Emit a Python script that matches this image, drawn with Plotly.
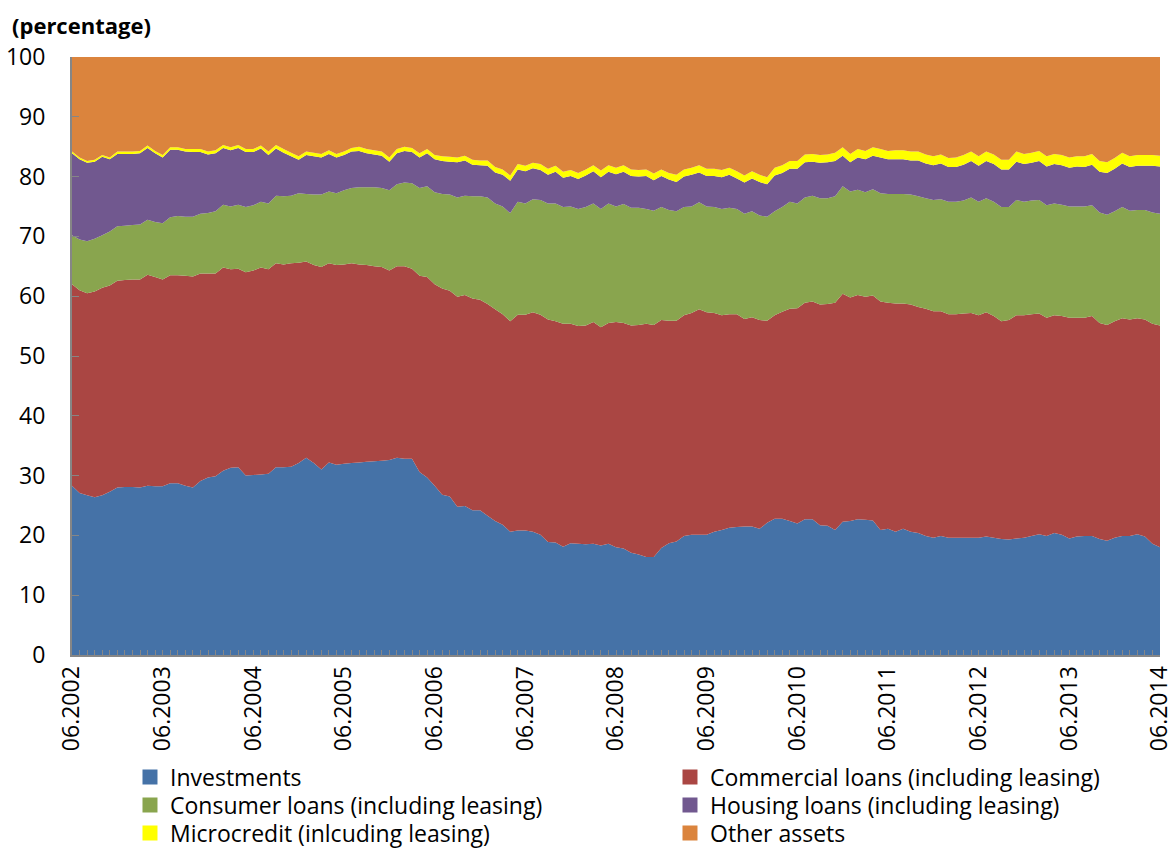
import plotly.graph_objects as go

# Monthly observations, June 2002 - June 2014
MONTHS = [f"{(5 + i) % 12 + 1:02d}.{2002 + (5 + i) // 12}" for i in range(145)]

# Shares of total assets, percent
INVESTMENTS = [
    28.3, 27.1, 26.7, 26.4, 26.7, 27.3, 28.0, 28.1, 28.1, 28.0, 28.3, 28.2,
    28.2, 28.7, 28.7, 28.3, 28.0, 29.1, 29.7, 29.9, 30.8, 31.3, 31.4, 30.0,
    30.1, 30.2, 30.3, 31.4, 31.4, 31.5, 32.1, 33.0, 32.1, 31.0, 32.2, 31.8,
    32.0, 32.1, 32.2, 32.3, 32.4, 32.5, 32.6, 33.0, 32.8, 32.8, 30.6, 29.7,
    28.3, 26.8, 26.5, 24.8, 24.9, 24.2, 24.2, 23.3, 22.4, 21.8, 20.6, 20.8,
    20.8, 20.6, 20.1, 18.9, 18.8, 18.1, 18.7, 18.6, 18.5, 18.6, 18.3, 18.6,
    18.0, 17.8, 17.1, 16.8, 16.4, 16.4, 17.9, 18.7, 19.0, 19.9, 20.1, 20.1,
    20.1, 20.6, 20.9, 21.3, 21.4, 21.5, 21.5, 21.1, 22.1, 22.8, 22.8, 22.4,
    22.0, 22.7, 22.7, 21.7, 21.6, 20.9, 22.3, 22.4, 22.7, 22.6, 22.5, 20.9,
    21.1, 20.6, 21.1, 20.6, 20.4, 19.9, 19.6, 19.9, 19.6, 19.6, 19.6, 19.6,
    19.6, 19.8, 19.6, 19.4, 19.3, 19.5, 19.6, 19.9, 20.2, 19.9, 20.4, 20.1,
    19.5, 19.8, 19.9, 19.9, 19.4, 19.1, 19.6, 19.9, 19.9, 20.2, 19.8, 18.6,
    18.0,
]

COMMERCIAL = [
    33.7, 33.9, 33.8, 34.4, 34.7, 34.5, 34.6, 34.6, 34.7, 34.8, 35.3, 35.0,
    34.6, 34.8, 34.8, 35.1, 35.3, 34.7, 34.1, 33.9, 34.0, 33.2, 33.2, 34.0,
    34.2, 34.6, 34.2, 34.1, 33.9, 34.0, 33.5, 32.8, 33.1, 33.9, 33.3, 33.4,
    33.3, 33.4, 33.1, 32.9, 32.6, 32.4, 31.7, 32.0, 32.2, 31.8, 32.8, 33.5,
    33.7, 34.5, 34.4, 35.1, 35.3, 35.4, 35.2, 35.4, 35.4, 35.2, 35.2, 36.1,
    36.1, 36.7, 36.8, 37.2, 37.0, 37.3, 36.7, 36.4, 36.6, 37.1, 36.5, 36.9,
    37.7, 37.7, 38.0, 38.4, 39.0, 38.8, 38.1, 37.2, 36.9, 36.9, 37.1, 37.7,
    37.2, 36.6, 35.9, 35.7, 35.6, 34.7, 35.0, 34.9, 33.8, 34.0, 34.6, 35.5,
    36.0, 36.2, 36.4, 36.9, 37.1, 38.0, 38.1, 37.4, 37.5, 37.3, 37.6, 38.2,
    37.8, 38.2, 37.7, 38.0, 37.8, 38.0, 37.9, 37.6, 37.4, 37.4, 37.5, 37.6,
    37.2, 37.5, 37.1, 36.4, 36.7, 37.3, 37.2, 37.1, 36.9, 36.5, 36.4, 36.6,
    36.9, 36.6, 36.5, 36.8, 36.1, 36.1, 36.2, 36.4, 36.2, 36.1, 36.3, 36.8,
    37.1,
]

CONSUMER = [
    8.2, 8.5, 8.7, 8.8, 8.8, 9.0, 9.1, 9.1, 9.1, 9.2, 9.2, 9.2,
    9.4, 9.7, 9.9, 9.9, 10.0, 10.0, 10.1, 10.4, 10.5, 10.5, 10.7, 10.9,
    10.9, 11.0, 11.0, 11.3, 11.4, 11.3, 11.6, 11.3, 11.8, 12.1, 12.0, 12.0,
    12.4, 12.6, 12.9, 13.0, 13.2, 13.2, 13.4, 13.7, 14.0, 14.3, 14.7, 15.2,
    15.4, 15.8, 16.1, 16.6, 16.6, 17.1, 17.3, 17.8, 17.7, 18.0, 18.1, 18.9,
    18.6, 18.9, 19.2, 19.4, 19.7, 19.5, 19.6, 19.6, 19.8, 19.8, 19.8, 20.0,
    19.3, 19.9, 19.7, 19.6, 19.2, 19.1, 18.9, 18.5, 18.3, 18.1, 17.8, 17.9,
    17.7, 17.7, 17.8, 17.8, 17.6, 17.6, 17.7, 17.5, 17.4, 17.4, 17.5, 17.9,
    17.5, 17.6, 17.7, 17.8, 17.7, 17.8, 18.0, 17.7, 17.6, 17.5, 17.8, 18.1,
    18.2, 18.3, 18.3, 18.4, 18.5, 18.5, 18.6, 18.7, 18.8, 18.8, 18.9, 19.3,
    19.0, 19.1, 19.1, 19.1, 18.9, 19.3, 19.0, 19.0, 19.0, 18.8, 18.7, 18.6,
    18.6, 18.6, 18.6, 18.5, 18.5, 18.4, 18.4, 18.6, 18.2, 18.1, 18.3, 18.6,
    18.7,
]

HOUSING = [
    13.7, 13.4, 13.1, 12.9, 13.1, 12.1, 12.1, 12.0, 11.9, 11.9, 12.0, 11.5,
    11.0, 11.3, 11.1, 10.9, 10.8, 10.3, 9.8, 9.7, 9.5, 9.4, 9.5, 9.2,
    8.9, 8.9, 8.1, 7.9, 7.3, 6.6, 5.6, 6.5, 6.4, 6.2, 6.3, 6.0,
    5.9, 6.1, 6.1, 5.7, 5.5, 5.4, 4.8, 5.2, 5.3, 5.2, 5.1, 5.5,
    5.5, 5.5, 5.5, 5.9, 5.9, 5.3, 5.2, 5.3, 5.2, 5.3, 5.4, 5.4,
    5.4, 5.2, 5.0, 4.8, 5.3, 4.9, 5.1, 5.0, 5.3, 5.4, 5.3, 5.3,
    5.4, 5.4, 5.3, 5.2, 5.5, 5.1, 5.2, 5.1, 4.9, 5.1, 5.3, 5.0,
    5.1, 5.2, 5.3, 5.5, 5.1, 5.2, 5.5, 5.6, 5.4, 6.0, 5.7, 5.5,
    5.8, 5.9, 5.7, 5.9, 6.0, 5.9, 5.1, 4.9, 5.4, 5.5, 5.6, 6.0,
    5.8, 5.8, 5.8, 5.7, 6.0, 5.8, 5.8, 6.0, 5.8, 5.8, 6.0, 6.1,
    6.0, 6.2, 6.3, 6.3, 6.3, 6.4, 6.3, 6.3, 6.5, 6.5, 6.6, 6.6,
    6.5, 6.7, 6.6, 6.8, 6.8, 7.0, 7.1, 7.3, 7.3, 7.4, 7.4, 7.8,
    7.9,
]

MICROCREDIT = [
    0.3, 0.3, 0.3, 0.3, 0.3, 0.3, 0.4, 0.4, 0.4, 0.4, 0.4, 0.4,
    0.4, 0.4, 0.4, 0.4, 0.5, 0.5, 0.5, 0.5, 0.5, 0.5, 0.5, 0.5,
    0.5, 0.5, 0.6, 0.6, 0.6, 0.6, 0.6, 0.6, 0.6, 0.6, 0.6, 0.6,
    0.6, 0.6, 0.7, 0.7, 0.7, 0.7, 0.7, 0.7, 0.7, 0.7, 0.7, 0.7,
    0.7, 0.8, 0.8, 0.8, 0.8, 0.8, 0.8, 0.9, 0.9, 0.9, 0.9, 0.9,
    0.9, 0.9, 1.0, 1.0, 1.0, 1.0, 1.0, 1.0, 1.0, 1.0, 1.1, 1.1,
    1.1, 1.1, 1.1, 1.1, 1.1, 1.1, 1.1, 1.1, 1.2, 1.2, 1.2, 1.2,
    1.2, 1.2, 1.2, 1.2, 1.2, 1.2, 1.2, 1.2, 1.2, 1.3, 1.3, 1.3,
    1.3, 1.3, 1.3, 1.3, 1.3, 1.4, 1.4, 1.4, 1.4, 1.4, 1.4, 1.4,
    1.4, 1.5, 1.5, 1.5, 1.5, 1.5, 1.5, 1.5, 1.5, 1.6, 1.6, 1.6,
    1.6, 1.6, 1.6, 1.6, 1.6, 1.7, 1.7, 1.7, 1.7, 1.7, 1.7, 1.7,
    1.7, 1.7, 1.8, 1.8, 1.8, 1.8, 1.8, 1.8, 1.8, 1.8, 1.8, 1.8,
    1.8,
]

OTHER = [
    15.8, 16.8, 17.4, 17.2, 16.4, 16.8, 15.8, 15.8, 15.8, 15.7, 14.8, 15.7,
    16.4, 15.1, 15.1, 15.4, 15.4, 15.4, 15.8, 15.6, 14.7, 15.1, 14.7, 15.4,
    15.4, 14.8, 15.8, 14.7, 15.4, 16.0, 16.6, 15.8, 16.0, 16.2, 15.6, 16.2,
    15.8, 15.2, 15.0, 15.4, 15.6, 15.8, 16.8, 15.4, 15.0, 15.2, 16.1, 15.4,
    16.4, 16.6, 16.7, 16.8, 16.5, 17.2, 17.3, 17.3, 18.4, 18.8, 19.8, 17.9,
    18.2, 17.7, 17.9, 18.7, 18.2, 19.2, 18.9, 19.4, 18.8, 18.1, 19.0, 18.1,
    18.5, 18.1, 18.8, 18.9, 18.8, 19.5, 18.8, 19.4, 19.7, 18.8, 18.5, 18.1,
    18.7, 18.7, 18.9, 18.5, 19.1, 19.8, 19.1, 19.7, 20.1, 18.5, 18.1, 17.4,
    17.4, 16.3, 16.2, 16.4, 16.3, 16.0, 15.1, 16.2, 15.4, 15.7, 15.1, 15.4,
    15.7, 15.6, 15.6, 15.8, 15.8, 16.3, 16.6, 16.3, 16.9, 16.8, 16.4, 15.8,
    16.6, 15.8, 16.3, 17.2, 17.2, 15.8, 16.2, 16.0, 15.7, 16.6, 16.2, 16.4,
    16.8, 16.6, 16.6, 16.2, 17.4, 17.6, 16.9, 16.0, 16.6, 16.4, 16.4, 16.4,
    16.5,
]

SERIES = [
    ("Investments", INVESTMENTS, "#4572A7"),
    ("Commercial loans (including leasing)", COMMERCIAL, "#AA4643"),
    ("Consumer loans (including leasing)", CONSUMER, "#89A54E"),
    ("Housing loans (including leasing)", HOUSING, "#71588F"),
    ("Microcredit (inlcuding leasing)", MICROCREDIT, "#FFFF00"),
    ("Other assets", OTHER, "#DB843D"),
]

FONT = "Open Sans, Liberation Sans, sans-serif"
AXIS_GREY = "#868686"

positions = list(range(len(MONTHS)))
year_ticks = positions[::12]

fig = go.Figure()

# stacked areas
for name, values, color in SERIES:
    fig.add_trace(go.Scatter(
        x=positions, y=values, name=name, customdata=MONTHS,
        stackgroup="assets", mode="none", fillcolor=color,
        showlegend=False,
        hovertemplate="%{customdata}: %{y:.1f}%<extra>" + name + "</extra>",
    ))

# square swatches for the legend: two entries per row, one legend per row
legend_rows = ["legend", "legend", "legend2", "legend2", "legend3", "legend3"]
for (name, values, color), row in zip(SERIES, legend_rows):
    fig.add_trace(go.Scatter(
        x=[None], y=[None], name=name, mode="markers",
        marker=dict(symbol="square", size=15, color=color),
        showlegend=True, hoverinfo="skip", legend=row,
    ))


def legend_row(y):
    return dict(
        orientation="h", x=0.0533, xanchor="left", y=y, yanchor="middle",
        entrywidth=495, entrywidthmode="pixels", traceorder="normal",
        font=dict(family=FONT, size=23, color="black"),
        bgcolor="rgba(0,0,0,0)", itemclick=False, itemdoubleclick=False,
    )


fig.update_layout(
    width=1172, height=849,
    margin=dict(l=72, r=12, t=57, b=194, autoexpand=False),
    paper_bgcolor="white", plot_bgcolor="white",
    font=dict(family=FONT, size=23, color="black"),
    showlegend=True,
    legend=legend_row(-0.204),
    legend2=legend_row(-0.2508),
    legend3=legend_row(-0.2977),
    annotations=[dict(
        text="<b>(percentage)</b>", xref="paper", yref="paper",
        x=-0.057, y=1.0535, xanchor="left", yanchor="middle",
        showarrow=False, font=dict(family=FONT, size=22, color="black"),
    )],
)

fig.update_xaxes(
    range=[0, len(MONTHS) - 1], showgrid=False, zeroline=False,
    showline=True, linecolor=AXIS_GREY, linewidth=2,
    tickmode="array", tickvals=year_ticks,
    ticktext=[MONTHS[i] for i in year_ticks],
    tickangle=-90, ticks="inside", ticklen=5, tickcolor=AXIS_GREY, tickwidth=1,
    minor=dict(tickmode="linear", tick0=0, dtick=1, ticks="inside",
               ticklen=5, tickcolor=AXIS_GREY, tickwidth=1, showgrid=False),
    tickfont=dict(family=FONT, size=23, color="black"),
    ticklabeloverflow="allow",
    automargin=False, layer="above traces",
)

fig.update_yaxes(
    range=[0, 100], tickmode="linear", tick0=0, dtick=10,
    showgrid=False, zeroline=False,
    showline=True, linecolor=AXIS_GREY, linewidth=2,
    ticks="inside", ticklen=7, tickcolor=AXIS_GREY, tickwidth=1,
    ticklabelstandoff=20,
    tickfont=dict(family=FONT, size=23, color="black"),
    automargin=False, layer="above traces",
)

fig.write_html("out.html")
